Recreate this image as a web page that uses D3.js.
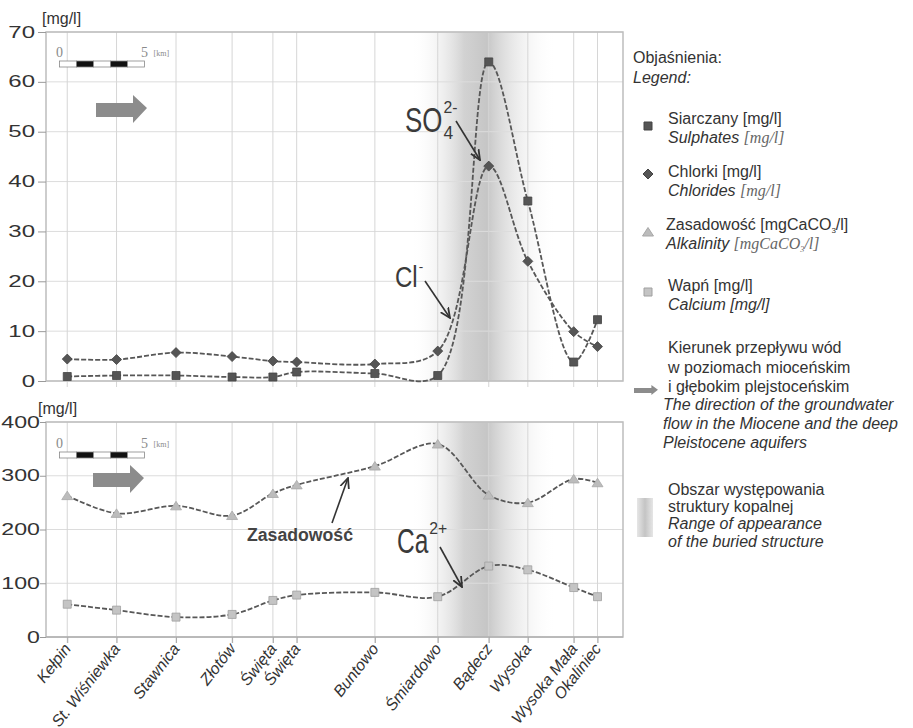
<!DOCTYPE html>
<html>
<head>
<meta charset="utf-8">
<script src="https://cdn.jsdelivr.net/npm/d3@7"></script>
<style>
body { margin: 0; background: #fff; }
text { font-family: "Liberation Sans", Arial, sans-serif; fill: #333; }
</style>
</head>
<body>
<svg id="chart" width="913" height="728"></svg>
<script>
//chart data
var places = ["Kełpin", "St. Wiśniewka", "Stawnica", "Złotów", "Święta", "Święta", "Buntowo",
	"Śmiardowo", "Bądecz", "Wysoka", "Wysoka Mała", "Okaliniec"];
var distKm = [0, 2.9, 6.4, 9.7, 12.1, 13.5, 18.1, 21.8, 24.8, 27.1, 29.8, 31.2];
var sulphates = [0.9, 1.1, 1.1, 0.8, 0.8, 1.8, 1.5, 1.1, 64, 36.1, 3.8, 12.3];
var chlorides = [4.4, 4.3, 5.7, 4.9, 4.0, 3.8, 3.4, 6.0, 43.1, 24.0, 9.9, 6.9];
var alkalinity = [263, 230, 244, 226, 267, 283, 318, 359, 264, 250, 294, 287];
var calcium = [61, 50, 37, 42, 68, 78, 83, 75, 132, 125, 92, 75];
var topTicks = [0, 10, 20, 30, 40, 50, 60, 70];
var bottomTicks = [0, 100, 200, 300, 400];
var structureKm = [20.2, 24.7, 28.8];	//start, darkest, end of the buried structure
var scaleBarKm = [-0.45, 0.55, 1.55, 2.55, 3.55, 4.55];

//legend texts: [text, style] pieces per line
var legendHead = ["Objaśnienia:", "Legend:"];
var legendSeries = [
	[[["Siarczany [mg/l]", "n"]], [["Sulphates ", "i"], ["[mg/l]", "s"]]],
	[[["Chlorki [mg/l]", "n"]], [["Chlorides ", "i"], ["[mg/l]", "s"]]],
	[[["Zasadowość [mgCaCO", "n"], ["3", "sub"], ["/l]", "n"]], [["Alkalinity ", "i"], ["[mgCaCO", "s"], ["3", "ssub"], ["/l]", "s"]]],
	[[["Wapń [mg/l]", "n"]], [["Calcium [mg/l]", "i"]]]
];
var legendFlow = ["Kierunek przepływu wód", "w poziomach mioceńskim", "i głębokim plejstoceńskim"];
var legendFlowEn = ["The direction of the groundwater", "flow in the Miocene and the deep", "Pleistocene aquifers"];
var legendArea = ["Obszar występowania", "struktury kopalnej"];
var legendAreaEn = ["Range of  appearance", "of the buried  structure"];

var svg = d3.select("#chart");
var left = 46, right = 623;
var lineColor = "#575757";

var x = d3.scaleLinear().domain([-1.25, 32.7]).range([left, right]);
var yTop = d3.scaleLinear().domain([0, 70]).range([381, 32]);
var yBot = d3.scaleLinear().domain([0, 400]).range([637, 422]);

//gradient for the buried structure
var defs = svg.append("defs");
var grad = defs.append("linearGradient").attr("id", "struct");
var mid = (structureKm[1] - structureKm[0]) / (structureKm[2] - structureKm[0]);
grad.append("stop").attr("offset", 0).attr("stop-color", "#fff").attr("stop-opacity", 0);
grad.append("stop").attr("offset", mid * 0.7).attr("stop-color", "#d2d2d2");
grad.append("stop").attr("offset", mid).attr("stop-color", "#c6c6c6");
grad.append("stop").attr("offset", mid + 0.04).attr("stop-color", "#d0d0d0");
grad.append("stop").attr("offset", 1).attr("stop-color", "#fff").attr("stop-opacity", 0);
var grad2 = defs.append("linearGradient").attr("id", "legendStruct");
grad2.append("stop").attr("offset", 0).attr("stop-color", "#e6e6e6");
grad2.append("stop").attr("offset", 0.5).attr("stop-color", "#c4c4c4");
grad2.append("stop").attr("offset", 1).attr("stop-color", "#e6e6e6");

defs.append("marker").attr("id", "head")
	.attr("viewBox", "0 0 10 10").attr("refX", 9).attr("refY", 5)
	.attr("markerWidth", 7).attr("markerHeight", 7).attr("orient", "auto")
	.append("path").attr("d", "M0,1 L9,5 L0,9").attr("fill", "none")
	.attr("stroke", "#333").attr("stroke-width", 1.6);

var smooth = d3.curveCatmullRom.alpha(0.5);
var flowArrow = "M0,8 L37,8 L37,0 L51,13 L37,28 L37,22 L0,22 Z";

function panel(y, ticks, dataA, dataB, opts) {
	var g = svg.append("g");
	var top = y.range()[1], bottom = y.range()[0];

	//buried structure shading
	g.append("rect")
		.attr("x", x(structureKm[0])).attr("width", x(structureKm[2]) - x(structureKm[0]))
		.attr("y", top).attr("height", bottom - top)
		.attr("fill", "url(#struct)");

	//grid
	g.selectAll(".hgrid").data(ticks).enter().append("line")
		.attr("x1", left).attr("x2", right)
		.attr("y1", function(d){ return y(d); }).attr("y2", function(d){ return y(d); })
		.attr("stroke", "#dcdcdc");
	g.selectAll(".vgrid").data(distKm).enter().append("line")
		.attr("x1", function(d){ return x(d); }).attr("x2", function(d){ return x(d); })
		.attr("y1", top).attr("y2", bottom + 6)
		.attr("stroke", "#d6d6d6");

	g.append("rect").attr("x", left).attr("y", top)
		.attr("width", right - left).attr("height", bottom - top)
		.attr("fill", "none").attr("stroke", "#bdbdbd").attr("stroke-width", 1.5);

	//y axis
	var ax = g.append("g").attr("transform", "translate(" + left + ",0)")
		.call(d3.axisLeft(y).tickValues(ticks).tickSize(opts.tick).tickSizeOuter(0));
	ax.select(".domain").remove();
	ax.selectAll(".tick line").attr("stroke", "#9a9a9a");
	ax.selectAll(".tick text")
		.attr("font-size", 16).attr("font-family", "Liberation Sans, Arial, sans-serif")
		.attr("fill", "#222")
		.attr("x", -opts.labelGap / opts.stretch)
		.attr("transform", "scale(" + opts.stretch + ",1)");

	g.append("text").attr("x", opts.unitX).attr("y", opts.unitY)
		.attr("font-size", 16).text("[mg/l]");

	//scale bar
	var sb = g.append("g");
	var sy = opts.barY;
	sb.selectAll("rect").data(scaleBarKm.slice(0, -1)).enter().append("rect")
		.attr("x", function(d){ return x(d); })
		.attr("width", function(d, i){ return x(scaleBarKm[i + 1]) - x(d); })
		.attr("y", sy).attr("height", 6)
		.attr("fill", function(d, i){ return i % 2 ? "#111" : "#fff"; })
		.attr("stroke", "#888").attr("stroke-width", 0.8);
	sb.append("text").attr("x", x(scaleBarKm[0])).attr("y", sy - 4)
		.attr("text-anchor", "middle").attr("font-size", 14)
		.style("font-family", "Liberation Serif, serif").style("fill", "#8a8a8a").text("0");
	sb.append("text").attr("x", x(scaleBarKm[5])).attr("y", sy - 4)
		.attr("text-anchor", "middle").attr("font-size", 14)
		.style("font-family", "Liberation Serif, serif").style("fill", "#8a8a8a").text("5");
	sb.append("text").attr("x", x(scaleBarKm[5]) + 9).attr("y", sy - 5)
		.attr("font-size", 8)
		.style("font-family", "Liberation Serif, serif").style("fill", "#8a8a8a").text("[km]");

	g.append("path").attr("d", flowArrow)
		.attr("transform", "translate(" + opts.arrowX + "," + opts.arrowY + ")")
		.attr("fill", "#8c8c8c");

	//series lines and markers
	[dataA, dataB].forEach(function(s) {
		var line = d3.line()
			.x(function(d, i){ return x(distKm[i]); })
			.y(function(d){ return y(d); })
			.curve(smooth);
		g.append("path").datum(s.values).attr("d", line)
			.attr("fill", "none").attr("stroke", lineColor)
			.attr("stroke-width", 1.8).attr("stroke-dasharray", "5,2");
		g.selectAll(null).data(s.values).enter().append("path")
			.attr("transform", function(d, i){ return "translate(" + x(distKm[i]) + "," + y(d) + ")"; })
			.attr("d", s.shape)
			.attr("fill", s.fill).attr("stroke", s.stroke).attr("stroke-width", 0.8);
	});
	return g;
}

var squareShape = "M-4,-4 L4,-4 L4,4 L-4,4 Z";
var diamondShape = "M0,-5 L5,0 L0,5 L-5,0 Z";
var triangleShape = "M-5.5,4 L0,-4.5 L5.5,4 Z";

panel(yTop, topTicks,
	{values: sulphates, shape: squareShape, fill: "#555", stroke: "#444"},
	{values: chlorides, shape: diamondShape, fill: "#555", stroke: "#444"},
	{unitX: 42, unitY: 24, barY: 61, arrowX: 96, arrowY: 95, tick: 8, labelGap: 11, stretch: 1.5});

var bot = panel(yBot, bottomTicks,
	{values: alkalinity, shape: triangleShape, fill: "#bcbcbc", stroke: "#a8a8a8"},
	{values: calcium, shape: squareShape, fill: "#c4c4c4", stroke: "#a0a0a0"},
	{unitX: 38, unitY: 414, barY: 452, arrowX: 93, arrowY: 465, tick: 6, labelGap: 6, stretch: 1.45});

//category axis under the lower panel
var xAxis = svg.append("g").attr("transform", "translate(0,637)")
	.call(d3.axisBottom(x).tickValues(distKm).tickSize(6).tickSizeOuter(0)
		.tickFormat(function(d, i){ return places[i]; }));
xAxis.select(".domain").attr("stroke", "#aaa").attr("d", "M" + left + ",0H" + right);
xAxis.selectAll(".tick line").attr("stroke", "#aaa");
xAxis.selectAll(".tick text")
	.attr("font-size", 16).attr("font-style", "italic")
	.attr("font-family", "Liberation Sans, Arial, sans-serif").attr("fill", "#333")
	.attr("text-anchor", "end")
	.attr("x", 0).attr("y", 0).attr("dy", 0)
	.attr("transform", "translate(4,12) rotate(-52)");

//annotations
function annot(txt, sup, sub, ax, ay, size, sx, arrow) {
	var t = svg.append("text").attr("transform", "translate(" + ax + "," + ay + ") scale(" + sx + ",1)")
		.attr("font-size", size).style("fill", "#3a3a3a");
	t.append("tspan").text(txt);
	var w = t.node().getComputedTextLength() * sx;
	if (sup) svg.append("text").attr("x", ax + w + 1).attr("y", ay - size * 0.55)
		.attr("font-size", size * 0.45).style("fill", "#3a3a3a").text(sup);
	if (sub) svg.append("text").attr("x", ax + w + 1).attr("y", ay + 7)
		.attr("font-size", size * 0.5).style("fill", "#3a3a3a").text(sub);
	svg.append("line").attr("x1", arrow[0]).attr("y1", arrow[1])
		.attr("x2", arrow[2]).attr("y2", arrow[3])
		.attr("stroke", "#333").attr("stroke-width", 1.6).attr("marker-end", "url(#head)");
}
annot("SO", "2-", "4", 405, 132, 35, 0.74, [456, 121, 480, 160]);
annot("Cl", "-", null, 395, 287, 30, 0.8, [425, 281, 450, 318]);
annot("Ca", "2+", null, 397, 553, 35, 0.7, [440, 547, 462, 587]);
svg.append("text").attr("transform", "translate(247,541) scale(0.93,1)")
	.attr("font-size", 19).attr("font-weight", "bold").style("fill", "#444").text("Zasadowość");
svg.append("line").attr("x1", 332).attr("y1", 523).attr("x2", 348).attr("y2", 478)
	.attr("stroke", "#333").attr("stroke-width", 1.6).attr("marker-end", "url(#head)");

//legend
var lg = svg.append("g");
lg.append("text").attr("x", 633).attr("y", 63).attr("font-size", 16).text(legendHead[0]);
lg.append("text").attr("x", 633).attr("y", 83).attr("font-size", 16)
	.attr("font-style", "italic").text(legendHead[1]);

function richLine(x0, y0, parts) {
	var t = lg.append("text").attr("x", x0).attr("y", y0).attr("font-size", 16);
	parts.forEach(function(p, i) {
		var sp = t.append("tspan").text(p[0]);
		if (p[1] == "i") sp.attr("font-style", "italic");
		if (p[1] == "s" || p[1] == "ssub") sp.attr("font-style", "italic")
			.style("font-family", "Liberation Serif, serif").style("fill", "#666");
		if (p[1] == "sub" || p[1] == "ssub") sp.attr("font-size", 8).attr("dy", 3);
		else if (i > 0 && (parts[i - 1][1] == "sub" || parts[i - 1][1] == "ssub")) sp.attr("dy", -3);
	});
}
var legendY = [124, 177, 230, 291];
var legendMarks = [
	{shape: squareShape, fill: "#555", stroke: "#444", y: 126},
	{shape: diamondShape, fill: "#555", stroke: "#444", y: 174},
	{shape: triangleShape, fill: "#bcbcbc", stroke: "#a8a8a8", y: 232},
	{shape: squareShape, fill: "#c4c4c4", stroke: "#a0a0a0", y: 292}
];
legendSeries.forEach(function(s, i) {
	lg.append("path").attr("d", legendMarks[i].shape)
		.attr("transform", "translate(648," + legendMarks[i].y + ")")
		.attr("fill", legendMarks[i].fill).attr("stroke", legendMarks[i].stroke);
	richLine(i == 2 ? 666 : 668, legendY[i], s[0]);
	richLine(i == 2 ? 666 : 668, legendY[i] + 19, s[1]);
});

legendFlow.forEach(function(t, i) {
	lg.append("text").attr("x", 668).attr("y", 353 + i * 19.5).attr("font-size", 16).text(t);
});
legendFlowEn.forEach(function(t, i) {
	lg.append("text").attr("x", 663).attr("y", 410 + i * 19).attr("font-size", 16)
		.attr("font-style", "italic").text(t);
});
lg.append("path").attr("d", flowArrow)
	.attr("transform", "translate(634,385) scale(0.47,0.36)").attr("fill", "#8c8c8c");

legendArea.forEach(function(t, i) {
	lg.append("text").attr("x", 668).attr("y", 495 + i * 17).attr("font-size", 16).text(t);
});
legendAreaEn.forEach(function(t, i) {
	lg.append("text").attr("x", 668).attr("y", 529 + i * 18).attr("font-size", 16)
		.attr("font-style", "italic").text(t);
});
lg.append("rect").attr("x", 637).attr("y", 498).attr("width", 16).attr("height", 39)
	.attr("fill", "url(#legendStruct)");
</script>
</body>
</html>
